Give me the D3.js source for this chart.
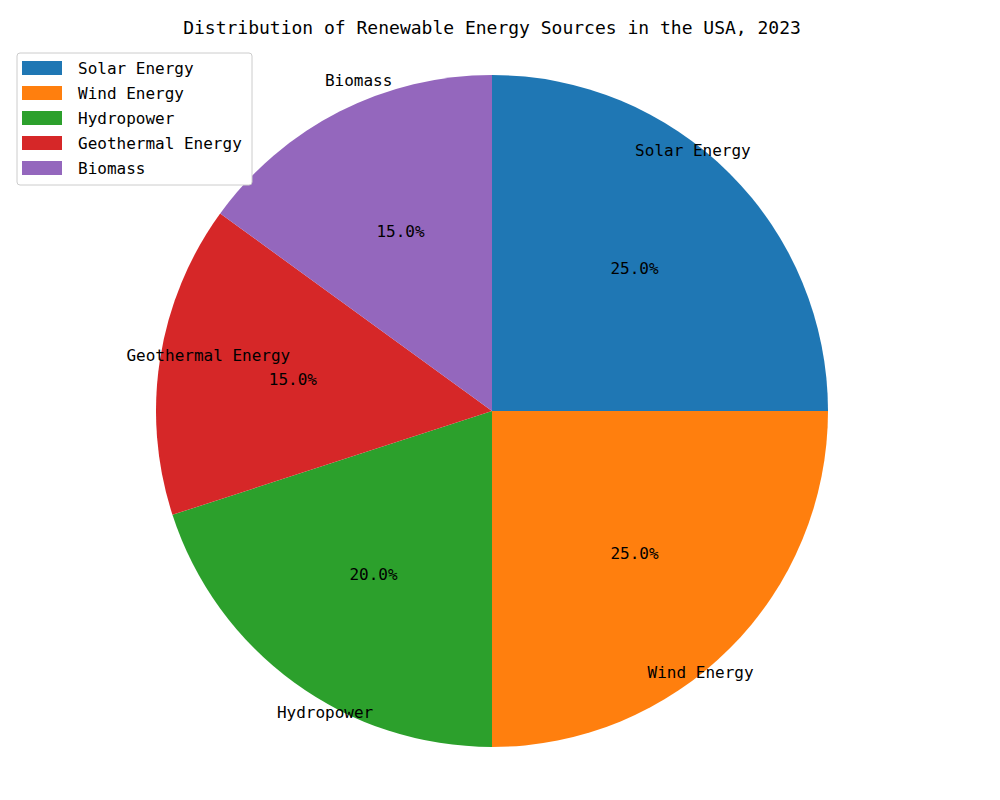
<!DOCTYPE html>
<html><head><meta charset="utf-8">
<script src="https://cdn.jsdelivr.net/npm/d3@7"></script>
<style>body{margin:0;background:#fff}text{font-family:"DejaVu Sans Mono",monospace;}</style>
</head><body><svg id="c" width="1000" height="800"></svg>
<script>
const categories = ["Solar Energy","Wind Energy","Hydropower","Geothermal Energy","Biomass"];
const values = [25,25,20,15,15];
const colors = ["#1f77b4","#ff7f0e","#2ca02c","#d62728","#9467bd"];
// label placement (degrees clockwise from top, radius in fraction of pie radius)
const labelAngles = [37.6,141.4,209,281,338];
const labelRadii = [0.98,0.995,1.025,0.86,1.06];

const svg = d3.select("#c");
const cx=492, cy=411, R=336;
svg.append("text").attr("x",492).attr("y",34).attr("text-anchor","middle").attr("font-size",18)
  .text("Distribution of Renewable Energy Sources in the USA, 2023");
const pie = d3.pie().sort(null).value(d=>d)(values);
const arc = d3.arc().innerRadius(0).outerRadius(R);
const g = svg.append("g").attr("transform",`translate(${cx},${cy})`);
g.selectAll("path").data(pie).join("path").attr("d",arc).attr("fill",(d,i)=>colors[i]);
const pct = d3.arc().innerRadius(R*0.6).outerRadius(R*0.6);
g.selectAll("text.p").data(pie).join("text").attr("class","p")
  .attr("transform",d=>`translate(${pct.centroid(d)})`).attr("text-anchor","middle").attr("dy","0.35em")
  .attr("font-size",16).text(d=>d.data.toFixed(1)+"%");
g.selectAll("text.l").data(categories).join("text").attr("class","l")
  .attr("x",(d,i)=>Math.sin(labelAngles[i]*Math.PI/180)*R*labelRadii[i])
  .attr("y",(d,i)=>-Math.cos(labelAngles[i]*Math.PI/180)*R*labelRadii[i])
  .attr("text-anchor","middle").attr("dy","0.35em").attr("font-size",16).text(d=>d);
const lg = svg.append("g");
lg.append("rect").attr("x",17).attr("y",53).attr("width",235).attr("height",132).attr("rx",3)
  .attr("fill","#fff").attr("stroke","#ccc");
categories.forEach((c,i)=>{
  lg.append("rect").attr("x",22).attr("y",61+i*25).attr("width",40).attr("height",14).attr("fill",colors[i]);
  lg.append("text").attr("x",78).attr("y",68+i*25).attr("dy","0.35em").attr("font-size",16).text(c);
});
</script></body></html>
